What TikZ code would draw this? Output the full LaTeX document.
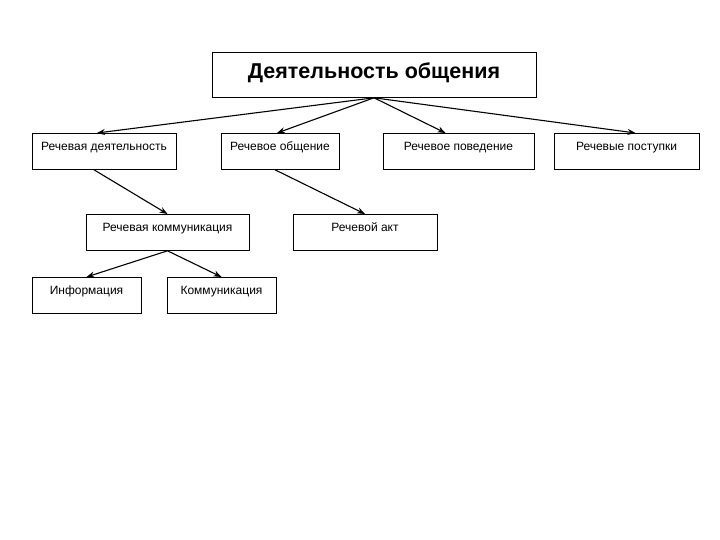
\documentclass[tikz,border=0pt]{standalone}
\usepackage{fontspec}
\setmainfont{Liberation Sans}
\usetikzlibrary{arrows.meta,positioning}

\begin{document}
\begin{tikzpicture}[x=1pt,y=-1pt,
  box/.style={draw,line width=0.8pt,inner sep=0pt,font=\fontsize{12}{14}\selectfont,text height=17.5pt,text depth=18.5pt,anchor=north},
  arr/.style={-{Stealth[length=8pt,width=6pt]},line width=1.1pt}]
  \useasboundingbox (0,0) rectangle (720,540);
  \node[box,minimum width=324pt,font=\bfseries\fontsize{21.5}{24}\selectfont,text height=26pt,text depth=19pt] (top) at (374,52) {Деятельность общения};
  \node[box,minimum width=144pt] (rd) at (104,133) {Речевая деятельность};
  \node[box,minimum width=118pt] (ro) at (280,133) {Речевое общение};
  \node[box,minimum width=151pt] (rp) at (458.5,133) {Речевое поведение};
  \node[box,minimum width=145pt] (rpost) at (626.5,133) {Речевые поступки};
  \node[box,minimum width=163pt] (rk) at (167.5,214) {Речевая коммуникация};
  \node[box,minimum width=144pt] (akt) at (365,214) {Речевой акт};
  \node[box,minimum width=109pt] (inf) at (86.5,277) {Информация};
  \node[box,minimum width=109pt] (kom) at (221.5,277) {Коммуникация};
  \draw[arr] (top.south) -- ([xshift=-7pt]rd.north);
  \draw[arr] (top.south) -- ([xshift=-3pt]ro.north);
  \draw[arr] (top.south) -- ([xshift=-13pt]rp.north);
  \draw[arr] (top.south) -- ([xshift=9pt]rpost.north);
  \draw[arr] ([xshift=-10pt]rd.south) -- (rk.north);
  \draw[arr] ([xshift=-5pt]ro.south) -- (akt.north);
  \draw[arr] (rk.south) -- (inf.north);
  \draw[arr] (rk.south) -- (kom.north);
\end{tikzpicture}
\end{document}
